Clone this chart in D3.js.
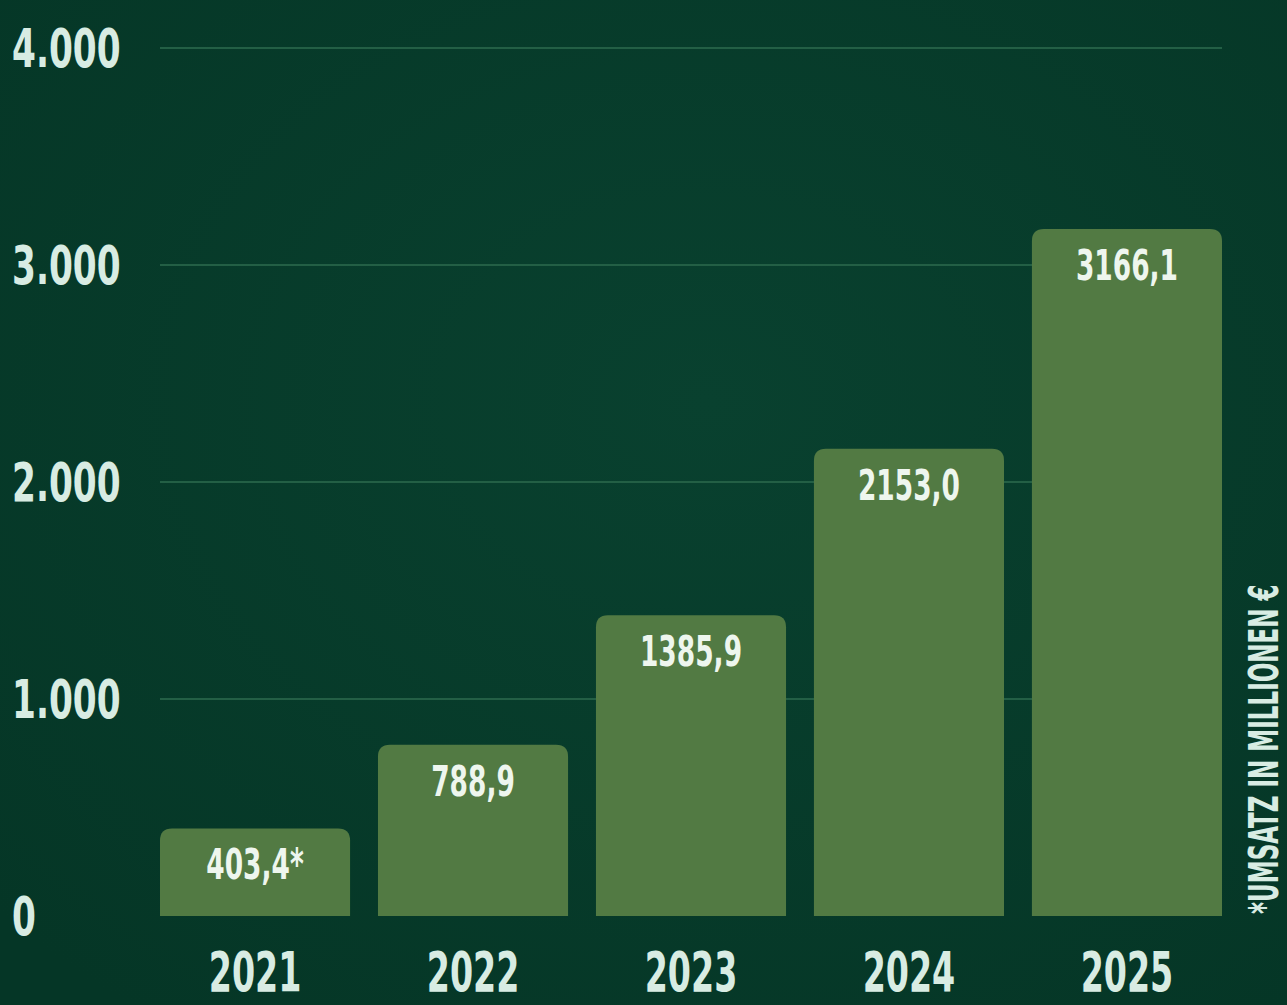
<!DOCTYPE html>
<html>
<head>
<meta charset="utf-8">
<script src="https://cdn.jsdelivr.net/npm/d3@7"></script>
<style>
  html, body { margin: 0; padding: 0; background: #073c2b; }
  svg { display: block; }
</style>
</head>
<body>
<div id="chart"></div>
<script>
// Umsatz in Millionen Euro
var years = ["2021", "2022", "2023", "2024", "2025"];
var values = [403.4, 788.9, 1385.9, 2153.0, 3166.1];
var valueLabels = ["403,4*", "788,9", "1385,9", "2153,0", "3166,1"];
var yTicks = [0, 1000, 2000, 3000, 4000];
var yTickLabels = ["0", "1.000", "2.000", "3.000", "4.000"];
var note = "*UMSATZ IN MILLIONEN €";

function barChart(){
    var W = 1287, H = 1005;
    var left = 160, right = 1222, top = 48, bottom = 916;
    // no condensed display font here, so squeeze DejaVu Condensed horizontally
    var font = "'DejaVu Sans Condensed', 'DejaVu Sans', sans-serif";

    var svg = d3.select("#chart").append("svg")
        .attr("width", W)
        .attr("height", H);

    // background with a slight glow
    var defs = svg.append("defs");
    var grad = defs.append("radialGradient").attr("id", "bg")
        .attr("cx", "55%").attr("cy", "40%").attr("r", "75%");
    grad.append("stop").attr("offset", "0%").attr("stop-color", "#09412f");
    grad.append("stop").attr("offset", "100%").attr("stop-color", "#053626");
    svg.append("rect").attr("width", W).attr("height", H).attr("fill", "url(#bg)");

    var x = d3.scaleBand().domain(years).range([left, right]).paddingInner(0.128).paddingOuter(0);
    var y = d3.scaleLinear().domain([0, 4000]).range([bottom, top]);

    // gridlines
    svg.selectAll(".grid").data(yTicks.filter(function(d){ return d > 0; }))
        .enter().append("line")
        .attr("x1", left).attr("x2", right)
        .attr("y1", function(d){ return y(d); })
        .attr("y2", function(d){ return y(d); })
        .attr("stroke", "#235f45")
        .attr("stroke-width", 2);

    // y tick labels
    svg.selectAll(".ytick").data(yTicks)
        .enter().append("text")
        .attr("transform", function(d){ return "translate(12," + y(d) + ") scale(0.72,1)"; })
        .attr("dy", "0.36em")
        .attr("fill", "#d8ece3")
        .attr("font-family", font)
        .attr("font-weight", "bold")
        .attr("font-size", "53px")
        .text(function(d, i){ return yTickLabels[i]; });

    // bars with rounded top corners
    var r = 12;
    svg.selectAll(".bar").data(values)
        .enter().append("path")
        .attr("fill", "#527a43")
        .attr("d", function(d, i){
            var x0 = x(years[i]), x1 = x0 + x.bandwidth();
            var y0 = y(d), y1 = y(0);
            return "M" + x0 + "," + y1 +
                "V" + (y0 + r) +
                "Q" + x0 + "," + y0 + " " + (x0 + r) + "," + y0 +
                "H" + (x1 - r) +
                "Q" + x1 + "," + y0 + " " + x1 + "," + (y0 + r) +
                "V" + y1 + "Z";
        });

    // value labels inside bars
    svg.selectAll(".val").data(values)
        .enter().append("text")
        .attr("transform", function(d, i){
            return "translate(" + (x(years[i]) + x.bandwidth() / 2) + "," + (y(d) + 51) + ") scale(0.7,1)";
        })
        .attr("text-anchor", "middle")
        .attr("fill", "#eef6ee")
        .attr("font-family", font)
        .attr("font-weight", "bold")
        .attr("font-size", "42px")
        .text(function(d, i){ return valueLabels[i]; });

    // year labels
    svg.selectAll(".year").data(years)
        .enter().append("text")
        .attr("transform", function(d){
            return "translate(" + (x(d) + x.bandwidth() / 2) + ",991) scale(0.66,1)";
        })
        .attr("text-anchor", "middle")
        .attr("fill", "#d8ece3")
        .attr("font-family", font)
        .attr("font-weight", "bold")
        .attr("font-size", "56px")
        .text(function(d){ return d; });

    // rotated note on the right
    svg.append("text")
        .attr("transform", "translate(1278," + (bottom - 2) + ") rotate(-90) scale(0.64,1)")
        .attr("fill", "#d8ece3")
        .attr("font-family", font)
        .attr("font-weight", "bold")
        .attr("font-size", "40px")
        .text(note);
}

barChart();
</script>
</body>
</html>
